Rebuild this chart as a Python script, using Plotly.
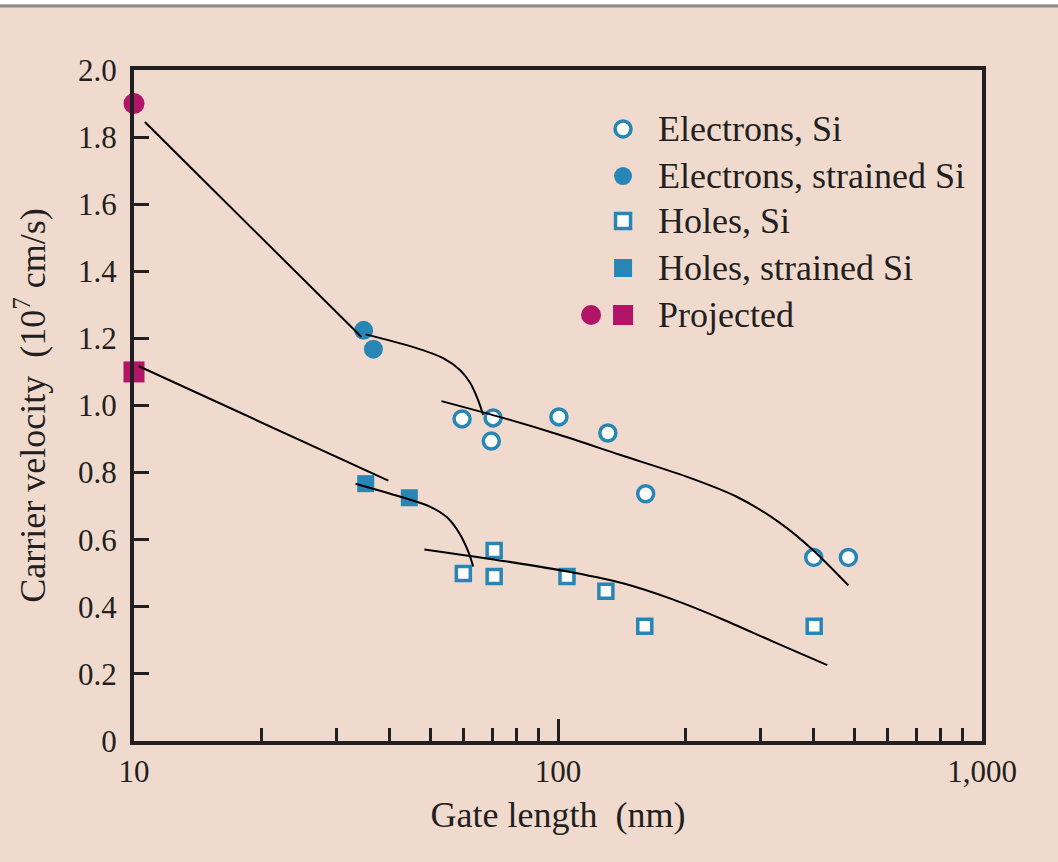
import plotly.graph_objects as go

# ---- measured carrier velocities (10^7 cm/s) vs gate length (nm) ----
elec_si_x = [59.4, 70.3, 69.6, 100.5, 131.1, 161.0, 401, 484]
elec_si_y = [0.960, 0.963, 0.894, 0.966, 0.918, 0.737, 0.547, 0.547]

elec_str_x = [34.8, 36.7]
elec_str_y = [1.224, 1.168]

hole_si_x = [59.8, 70.7, 70.7, 105, 129.7, 160.2, 402]
hole_si_y = [0.499, 0.568, 0.490, 0.490, 0.446, 0.342, 0.342]

hole_str_x = [35.2, 44.6]
hole_str_y = [0.767, 0.725]

proj_elec_x = [10]
proj_elec_y = [1.9]
proj_hole_x = [10]
proj_hole_y = [1.1]

# ---- hand-drawn trend curves ----
e_trend1_x = [10.61, 34.4]
e_trend1_y = [1.845, 1.204]
e_trend2_x = [35.2, 45.6, 53.6, 58.8, 62.1, 64.8, 66.6]
e_trend2_y = [1.212, 1.174, 1.141, 1.105, 1.067, 1.016, 0.972]
e_trend3_x = [53.1, 74.2, 101.1, 139.9, 201, 264, 333, 398, 484]
e_trend3_y = [1.013, 0.963, 0.912, 0.853, 0.788, 0.728, 0.651, 0.571, 0.464]

h_trend1_x = [10.27, 39.8]
h_trend1_y = [1.117, 0.776]
h_trend2_x = [33.3, 42.5, 50.0, 54.8, 58.8, 61.4, 63.1]
h_trend2_y = [0.767, 0.728, 0.698, 0.666, 0.615, 0.565, 0.520]
h_trend3_x = [48.4, 75.9, 108.5, 142.2, 186.5, 244, 320.6, 431.7]
h_trend3_y = [0.571, 0.535, 0.502, 0.470, 0.422, 0.363, 0.297, 0.226]

# ---- axis ticks ----
y_tick_vals = [0, 0.2, 0.4, 0.6, 0.8, 1.0, 1.2, 1.4, 1.6, 1.8, 2.0]
y_tick_text = ["0", "0.2", "0.4", "0.6", "0.8", "1.0", "1.2", "1.4", "1.6", "1.8", "2.0"]
x_tick_vals = [10, 100, 1000]
x_tick_text = ["10", "100", "1,000"]
x_minor_vals = [20, 30, 40, 50, 60, 70, 80, 90, 200, 300, 400, 500, 600, 700, 800, 900]

legend_labels = ["Electrons, Si", "Electrons, strained Si", "Holes, Si",
                 "Holes, strained Si", "Projected"]

BLUE = "#2886b6"
MAGENTA = "#b21468"
INK = "#231f20"
BG = "#f0dace"
FONT = "Liberation Serif, Times New Roman, serif"

fig = go.Figure()

# data markers
fig.add_trace(go.Scatter(x=elec_si_x, y=elec_si_y, mode="markers",
                         marker=dict(symbol="circle", size=16, color="white",
                                     line=dict(color=BLUE, width=3.5)),
                         showlegend=False))
fig.add_trace(go.Scatter(x=elec_str_x, y=elec_str_y, mode="markers",
                         marker=dict(symbol="circle", size=19, color=BLUE),
                         showlegend=False))
fig.add_trace(go.Scatter(x=hole_si_x, y=hole_si_y, mode="markers",
                         marker=dict(symbol="square", size=14, color="white",
                                     line=dict(color=BLUE, width=3.5)),
                         showlegend=False))
fig.add_trace(go.Scatter(x=hole_str_x, y=hole_str_y, mode="markers",
                         marker=dict(symbol="square", size=17, color=BLUE),
                         showlegend=False))
fig.add_trace(go.Scatter(x=proj_elec_x, y=proj_elec_y, mode="markers",
                         marker=dict(symbol="circle", size=21, color=MAGENTA),
                         cliponaxis=False, showlegend=False))
fig.add_trace(go.Scatter(x=proj_hole_x, y=proj_hole_y, mode="markers",
                         marker=dict(symbol="square", size=21, color=MAGENTA),
                         cliponaxis=False, showlegend=False))

# trend curves drawn over the markers
for cx, cy in [(e_trend1_x, e_trend1_y), (e_trend2_x, e_trend2_y),
               (e_trend3_x, e_trend3_y), (h_trend1_x, h_trend1_y),
               (h_trend2_x, h_trend2_y), (h_trend3_x, h_trend3_y)]:
    fig.add_trace(go.Scatter(x=cx, y=cy, mode="lines",
                             line=dict(color="black", width=2, shape="spline",
                                       smoothing=0.85),
                             showlegend=False, hoverinfo="skip"))

# legend block: symbols on an overlay axis spanning the plot area (0..1)
leg_rows = [0.9121, 0.8420, 0.7750, 0.7049, 0.6349]
leg_sym_x = 0.5767
leg_text_x = 0.6155
leg_symbols = [
    dict(symbol="circle", size=16, color="white", line=dict(color=BLUE, width=3.5)),
    dict(symbol="circle", size=18, color=BLUE),
    dict(symbol="square", size=15, color="white", line=dict(color=BLUE, width=3.5)),
    dict(symbol="square", size=18, color=BLUE),
]
for row, sym in zip(leg_rows[:4], leg_symbols):
    fig.add_trace(go.Scatter(x=[leg_sym_x], y=[row], mode="markers", marker=sym,
                             xaxis="x2", yaxis="y2", showlegend=False,
                             hoverinfo="skip"))
fig.add_trace(go.Scatter(x=[0.539], y=[leg_rows[4]], mode="markers",
                         marker=dict(symbol="circle", size=20, color=MAGENTA),
                         xaxis="x2", yaxis="y2", showlegend=False, hoverinfo="skip"))
fig.add_trace(go.Scatter(x=[leg_sym_x], y=[leg_rows[4]], mode="markers",
                         marker=dict(symbol="square", size=20, color=MAGENTA),
                         xaxis="x2", yaxis="y2", showlegend=False, hoverinfo="skip"))

annotations = []
for row, label in zip(leg_rows, legend_labels):
    annotations.append(dict(x=leg_text_x, y=row, xref="paper", yref="paper",
                            text=label, showarrow=False, xanchor="left",
                            yanchor="middle",
                            font=dict(family=FONT, size=36, color=INK)))

axis_common = dict(showline=True, linecolor=INK, linewidth=4, mirror=True,
                   showgrid=False, zeroline=False, ticks="inside",
                   tickcolor=INK, tickwidth=3,
                   tickfont=dict(family=FONT, size=31, color=INK))

fig.update_layout(
    width=1058, height=862,
    margin=dict(l=134, r=76, t=70, b=121),
    paper_bgcolor=BG, plot_bgcolor=BG,
    xaxis=dict(type="log", range=[1, 3], tickvals=x_tick_vals,
               ticktext=x_tick_text, ticklen=22,
               minor=dict(ticks="inside", tickvals=x_minor_vals, ticklen=13,
                          tickwidth=3, tickcolor=INK, showgrid=False),
               title=dict(text="Gate length\u00a0\u00a0(nm)", standoff=15,
                          font=dict(family=FONT, size=36, color=INK)),
               **axis_common),
    yaxis=dict(range=[0, 2.0], tickvals=y_tick_vals, ticktext=y_tick_text,
               ticklen=15, ticklabelstandoff=7,
               title=dict(text="Carrier velocity\u00a0\u00a0(10<sup>7</sup> cm/s)",
                          standoff=22,
                          font=dict(family=FONT, size=36, color=INK)),
               **axis_common),
    xaxis2=dict(overlaying="x", range=[0, 1], visible=False),
    yaxis2=dict(overlaying="y", range=[0, 1], visible=False),
    annotations=annotations,
    shapes=[
        dict(type="rect", xref="paper", yref="paper", x0=-0.2, x1=1.2,
             y0=1.0984, y1=1.12, fillcolor="white", line=dict(width=0),
             layer="below"),
        dict(type="line", xref="paper", yref="paper", x0=-0.2, x1=1.2,
             y0=1.0954, y1=1.0954, line=dict(color="#8a8a8a", width=3)),
    ],
)

fig.write_html("out.html")
